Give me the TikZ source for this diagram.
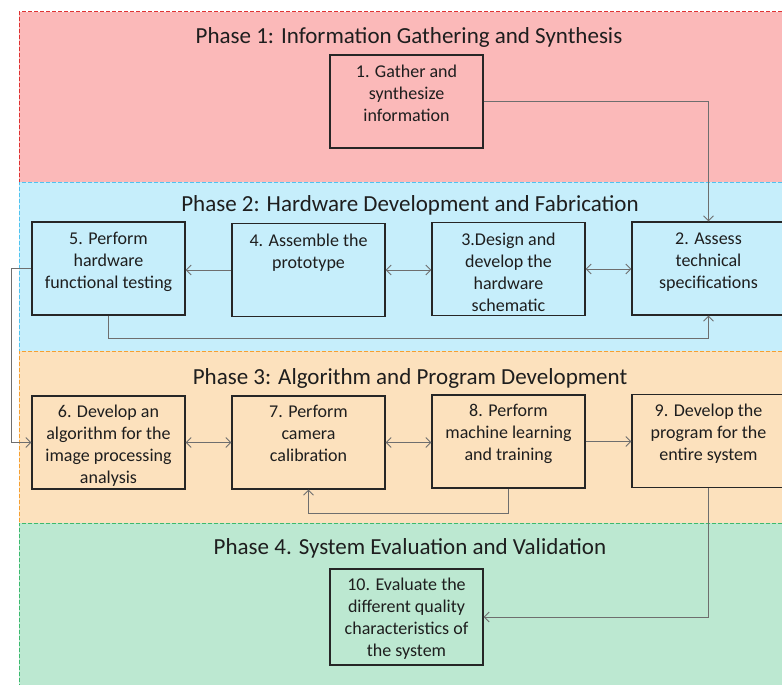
\documentclass[tikz,border=0pt]{standalone}
\usepackage{fontspec}
\setmainfont{Carlito}
\usetikzlibrary{arrows.meta}
\definecolor{p1fill}{RGB}{251,185,185}
\definecolor{p2fill}{RGB}{198,238,251}
\definecolor{p3fill}{RGB}{252,225,189}
\definecolor{p4fill}{RGB}{188,232,209}
\definecolor{p1line}{RGB}{222,50,50}
\definecolor{p2line}{RGB}{80,195,240}
\definecolor{p3line}{RGB}{245,160,50}
\definecolor{p4line}{RGB}{60,185,110}
\definecolor{boxline}{RGB}{38,38,38}
\definecolor{textc}{RGB}{30,30,30}
\definecolor{linec}{RGB}{110,110,110}
\tikzset{
  phasebox/.style={line width=1pt, dash pattern=on 4pt off 2pt},
  stepbox/.style={draw=boxline, line width=1.2pt, minimum width=153pt, minimum height=93pt, inner sep=0pt},
  steptxt/.style={anchor=north, align=center, inner sep=0pt, font=\fontsize{18}{22}\selectfont, text=textc},
  phasetitle/.style={anchor=base, inner sep=0pt, font=\fontsize{23}{27}\selectfont, text=textc},
  conn/.style={draw=linec, line width=0.9pt, -{Straight Barb[length=5pt,width=10pt]}},
  conn2/.style={draw=linec, line width=0.9pt, {Straight Barb[length=5pt,width=10pt]}-{Straight Barb[length=5pt,width=10pt]}}
}
\begin{document}
\begin{tikzpicture}[x=1pt,y=-1pt]
\useasboundingbox (0,0) rectangle (782,685);
\clip (0,0) rectangle (782,685);
\fill[white] (0,0) rectangle (782,685);
% phase regions
\fill[p1fill] (19,12) rectangle (800,182);
\draw[phasebox, p1line] (800,12) -- (19,12) -- (19,182) -- (800,182);
\fill[p2fill] (19,182) rectangle (800,351);
\draw[phasebox, p2line] (800,182) -- (19,182) -- (19,351) -- (800,351);
\fill[p3fill] (19,351) rectangle (800,523);
\draw[phasebox, p3line] (800,351) -- (19,351) -- (19,523) -- (800,523);
\fill[p4fill] (19,523) rectangle (800,700);
\draw[phasebox, p4line] (800,523) -- (19,523) -- (19,700);
% titles
\node[phasetitle] (h1) at (409,44) {Phase 1: Information Gathering and Synthesis};
\node[phasetitle] (h2) at (410,211) {Phase 2: Hardware Development and Fabrication};
\node[phasetitle] (h3) at (410,384) {Phase 3: Algorithm and Program Development};
\node[phasetitle] (h4) at (410,554) {Phase 4. System Evaluation and Validation};
% boxes
\node[stepbox] (b1) at (406.5,101.5) {};
\node[stepbox] (b5) at (108.5,268.5) {};
\node[stepbox] (b4) at (308.5,270) {};
\node[stepbox] (b3) at (508.5,269) {};
\node[stepbox] (b2) at (708.5,268.5) {};
\node[stepbox] (b6) at (108.5,442.5) {};
\node[stepbox] (b7) at (308.5,442.5) {};
\node[stepbox] (b8) at (508.5,441.5) {};
\node[stepbox] (b9) at (708.5,441) {};
\node[stepbox, minimum height=96pt] (b10) at (406.5,617) {};
% texts
\node[steptxt] (t1) at ([yshift=-7.6pt]b1.north) {\strut 1. Gather and\\synthesize\\information};
\node[steptxt] (t5) at ([yshift=-7.6pt]b5.north) {\strut 5. Perform\\hardware\\functional testing};
\node[steptxt] (t4) at ([yshift=-7.6pt]b4.north) {\strut 4. Assemble the\\prototype};
\node[steptxt] (t3) at ([yshift=-7.6pt]b3.north) {\strut 3.Design and\\develop the\\hardware\\schematic};
\node[steptxt] (t2) at ([yshift=-7.6pt]b2.north) {\strut 2. Assess\\technical\\specifications};
\node[steptxt] (t6) at ([yshift=-6.6pt]b6.north) {\strut 6. Develop an\\algorithm for the\\image processing\\analysis};
\node[steptxt] (t7) at ([yshift=-6.6pt]b7.north) {\strut 7. Perform\\camera\\calibration};
\node[steptxt] (t8) at ([yshift=-6.6pt]b8.north) {\strut 8. Perform\\machine learning\\and training};
\node[steptxt] (t9) at ([yshift=-6.6pt]b9.north) {\strut 9. Develop the\\program for the\\entire system};
\node[steptxt] (t10) at ([yshift=-6.6pt]b10.north) {\strut 10. Evaluate the\\different quality\\characteristics of\\the system};
% helper coordinates
\coordinate (r1) at (0,338);
\coordinate (l1) at (11,0);
\coordinate (r2) at (0,513);
% connectors
\draw[conn] (b1.east) -| (b2.north);
\draw[conn] (b4.west) -- (b4.west -| b5.east);
\draw[conn2] (b4.east) -- (b4.east -| b3.west);
\draw[conn2] (b3.east) -- (b3.east -| b2.west);
\draw[conn] (b5.south) -- (b5.south |- r1) -| (b2.south);
\draw[conn] (b5.west) -- (b5.west -| l1) |- (b6.west);
\draw[conn2] (b6.east) -- (b6.east -| b7.west);
\draw[conn2] (b7.east) -- (b7.east -| b8.west);
\draw[conn] (b8.east) -- (b8.east -| b9.west);
\draw[conn] (b8.south) -- (b8.south |- r2) -| (b7.south);
\draw[conn] (b9.south) |- (b10.east);
\end{tikzpicture}
\end{document}
